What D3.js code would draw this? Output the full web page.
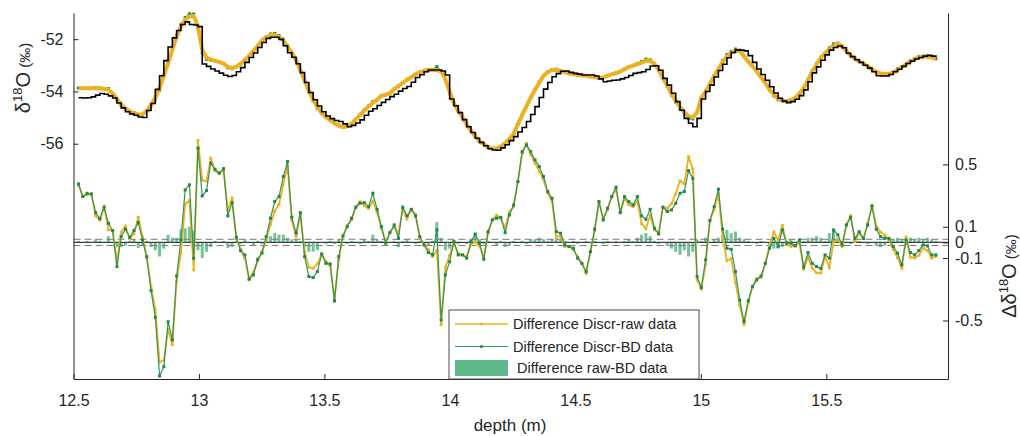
<!DOCTYPE html>
<html>
<head>
<meta charset="utf-8">
<script src="https://cdn.jsdelivr.net/npm/d3@7"></script>
<style>
  body { margin: 0; background: #fff; }
  text { font-family: "Liberation Sans", Arial, sans-serif; fill: #262626; }
</style>
</head>
<body>
<div id="chart"></div>
<script>
const width = 1020;
const height = 436;

// depth of every sample (m)
const depth = [
  12.520, 12.537, 12.554, 12.571, 12.588, 12.605, 12.622, 12.639, 12.656, 12.673,
  12.690, 12.707, 12.724, 12.741, 12.758, 12.775, 12.792, 12.809, 12.826, 12.843,
  12.860, 12.877, 12.894, 12.911, 12.928, 12.945, 12.962, 12.979, 12.996, 13.013,
  13.030, 13.047, 13.064, 13.081, 13.098, 13.115, 13.132, 13.149, 13.166, 13.183,
  13.200, 13.217, 13.234, 13.251, 13.268, 13.285, 13.302, 13.319, 13.336, 13.353,
  13.370, 13.387, 13.404, 13.421, 13.438, 13.455, 13.472, 13.489, 13.506, 13.523,
  13.540, 13.557, 13.574, 13.591, 13.608, 13.625, 13.642, 13.659, 13.676, 13.693,
  13.710, 13.727, 13.744, 13.761, 13.778, 13.795, 13.812, 13.829, 13.846, 13.863,
  13.880, 13.897, 13.914, 13.931, 13.948, 13.965, 13.982, 13.999, 14.016, 14.033,
  14.050, 14.067, 14.084, 14.101, 14.118, 14.135, 14.152, 14.169, 14.186, 14.203,
  14.220, 14.237, 14.254, 14.271, 14.288, 14.305, 14.322, 14.339, 14.356, 14.373,
  14.390, 14.407, 14.424, 14.441, 14.458, 14.475, 14.492, 14.509, 14.526, 14.543,
  14.560, 14.577, 14.594, 14.611, 14.628, 14.645, 14.662, 14.679, 14.696, 14.713,
  14.730, 14.747, 14.764, 14.781, 14.798, 14.815, 14.832, 14.849, 14.866, 14.883,
  14.900, 14.917, 14.934, 14.951, 14.968, 14.985, 15.002, 15.019, 15.036, 15.053,
  15.070, 15.087, 15.104, 15.121, 15.138, 15.155, 15.172, 15.189, 15.206, 15.223,
  15.240, 15.257, 15.274, 15.291, 15.308, 15.325, 15.342, 15.359, 15.376, 15.393,
  15.410, 15.427, 15.444, 15.461, 15.478, 15.495, 15.512, 15.529, 15.546, 15.563,
  15.580, 15.597, 15.614, 15.631, 15.648, 15.665, 15.682, 15.699, 15.716, 15.733,
  15.750, 15.767, 15.784, 15.801, 15.818, 15.835, 15.852, 15.869, 15.886, 15.903,
  15.920, 15.937
];

// top panel, raw data d18O (permil)
const rawData = [
  -53.88, -53.88, -53.88, -53.88, -53.88, -53.88, -53.90, -53.93, -54.08, -54.29,
  -54.50, -54.65, -54.77, -54.83, -54.88, -54.87, -54.75, -54.52, -54.24, -53.86,
  -53.38, -52.93, -52.40, -51.89, -51.53, -51.26, -51.13, -51.11, -51.52, -52.41,
  -52.71, -52.78, -52.83, -52.87, -52.94, -53.06, -53.10, -53.06, -52.94, -52.80,
  -52.64, -52.45, -52.26, -52.05, -51.93, -51.84, -51.84, -51.91, -52.05, -52.29,
  -52.53, -52.80, -53.19, -53.58, -53.97, -54.31, -54.60, -54.83, -54.98, -55.10,
  -55.22, -55.31, -55.37, -55.33, -55.24, -55.07, -54.90, -54.73, -54.57, -54.44,
  -54.32, -54.17, -54.12, -54.07, -53.91, -53.79, -53.68, -53.56, -53.46, -53.34,
  -53.27, -53.21, -53.18, -53.18, -53.18, -53.23, -53.53, -54.02, -54.46, -54.73,
  -55.00, -55.27, -55.51, -55.71, -55.91, -56.02, -56.13, -56.18, -56.18, -56.11,
  -55.99, -55.82, -55.62, -55.25, -54.90, -54.57, -54.24, -53.94, -53.67, -53.41,
  -53.26, -53.18, -53.18, -53.22, -53.26, -53.31, -53.33, -53.36, -53.38, -53.40,
  -53.43, -53.45, -53.49, -53.46, -53.40, -53.35, -53.30, -53.24, -53.15, -53.07,
  -53.01, -52.96, -52.90, -52.82, -52.83, -52.94, -53.18, -53.49, -53.77, -54.10,
  -54.35, -54.59, -54.79, -54.95, -54.99, -54.81, -54.25, -54.01, -53.72, -53.41,
  -53.15, -52.86, -52.67, -52.53, -52.45, -52.45, -52.66, -52.86, -53.04, -53.23,
  -53.46, -53.68, -53.93, -54.13, -54.28, -54.34, -54.39, -54.34, -54.25, -54.09,
  -53.87, -53.58, -53.23, -52.97, -52.72, -52.54, -52.39, -52.26, -52.18, -52.27,
  -52.45, -52.63, -52.74, -52.85, -52.94, -53.04, -53.16, -53.24, -53.31, -53.32,
  -53.33, -53.27, -53.17, -53.07, -52.96, -52.85, -52.77, -52.69, -52.67, -52.67,
  -52.70, -52.76
];

// top panel, BD data
const bdData = [
  -53.87, -53.88, -53.87, -53.88, -53.86, -53.87, -53.90, -53.89, -54.08, -54.32,
  -54.53, -54.67, -54.76, -54.81, -54.92, -54.89, -54.74, -54.55, -54.29, -53.95,
  -53.42, -52.88, -52.37, -51.86, -51.45, -51.17, -51.03, -51.04, -51.57, -52.51,
  -52.77, -52.81, -52.82, -52.87, -52.93, -53.10, -53.13, -53.05, -52.95, -52.78,
  -52.64, -52.47, -52.25, -52.06, -51.91, -51.80, -51.78, -51.86, -52.00, -52.26,
  -52.51, -52.78, -53.18, -53.61, -54.03, -54.37, -54.65, -54.83, -54.99, -55.09,
  -55.23, -55.29, -55.37, -55.34, -55.23, -55.07, -54.91, -54.71, -54.56, -54.39,
  -54.30, -54.16, -54.13, -54.07, -53.90, -53.82, -53.67, -53.54, -53.46, -53.35,
  -53.26, -53.21, -53.20, -53.17, -53.05, -53.20, -53.58, -54.06, -54.45, -54.74,
  -55.00, -55.28, -55.49, -55.66, -55.89, -56.03, -56.12, -56.18, -56.20, -56.10,
  -56.02, -55.84, -55.61, -55.25, -54.89, -54.58, -54.22, -53.92, -53.64, -53.39,
  -53.25, -53.16, -53.15, -53.20, -53.25, -53.31, -53.32, -53.37, -53.38, -53.39,
  -53.43, -53.44, -53.49, -53.47, -53.39, -53.35, -53.29, -53.24, -53.14, -53.05,
  -53.00, -52.93, -52.85, -52.76, -52.79, -52.93, -53.19, -53.49, -53.79, -54.14,
  -54.41, -54.67, -54.84, -55.04, -55.05, -54.79, -54.24, -53.98, -53.72, -53.39,
  -53.12, -52.81, -52.59, -52.47, -52.38, -52.42, -52.64, -52.85, -53.04, -53.24,
  -53.45, -53.68, -53.95, -54.17, -54.32, -54.37, -54.38, -54.32, -54.25, -54.07,
  -53.86, -53.55, -53.20, -52.93, -52.69, -52.53, -52.33, -52.18, -52.15, -52.26,
  -52.45, -52.64, -52.72, -52.84, -52.94, -53.05, -53.16, -53.26, -53.34, -53.34,
  -53.32, -53.25, -53.14, -53.05, -52.98, -52.82, -52.75, -52.66, -52.65, -52.64,
  -52.68, -52.75
];

// top panel, discretized data (stairs)
const discrData = [
  -54.24, -54.25, -54.24, -54.21, -54.14, -54.08, -54.11, -54.17, -54.25, -54.44,
  -54.63, -54.78, -54.86, -54.91, -54.98, -55.00, -54.73, -54.46, -53.92, -53.40,
  -52.82, -52.30, -51.95, -51.67, -51.44, -51.34, -51.44, -51.46, -51.52, -52.95,
  -53.04, -53.14, -53.22, -53.30, -53.38, -53.43, -53.39, -53.25, -53.09, -52.89,
  -52.70, -52.53, -52.32, -52.13, -51.97, -51.93, -51.93, -52.01, -52.25, -52.52,
  -52.69, -52.94, -53.28, -53.66, -54.04, -54.32, -54.56, -54.78, -54.94, -55.04,
  -55.11, -55.15, -55.24, -55.35, -55.30, -55.21, -55.09, -54.91, -54.76, -54.66,
  -54.54, -54.42, -54.31, -54.20, -54.11, -53.99, -53.89, -53.81, -53.65, -53.47,
  -53.36, -53.25, -53.18, -53.18, -53.18, -53.22, -53.37, -54.29, -54.55, -54.81,
  -55.08, -55.35, -55.57, -55.79, -55.95, -56.08, -56.19, -56.24, -56.25, -56.16,
  -56.04, -55.88, -55.73, -55.55, -55.38, -55.15, -54.88, -54.58, -54.23, -53.91,
  -53.66, -53.44, -53.32, -53.23, -53.22, -53.27, -53.31, -53.34, -53.37, -53.37,
  -53.37, -53.41, -53.52, -53.63, -53.60, -53.57, -53.56, -53.52, -53.47, -53.39,
  -53.31, -53.28, -53.25, -53.16, -53.03, -53.02, -53.19, -53.50, -53.76, -54.07,
  -54.39, -54.72, -55.03, -55.22, -55.35, -55.03, -54.29, -54.00, -53.76, -53.45,
  -53.20, -52.96, -52.71, -52.51, -52.41, -52.42, -52.45, -52.63, -52.89, -53.14,
  -53.35, -53.57, -53.82, -54.06, -54.26, -54.37, -54.43, -54.39, -54.30, -54.16,
  -53.94, -53.63, -53.29, -53.06, -52.81, -52.60, -52.42, -52.32, -52.26, -52.33,
  -52.54, -52.67, -52.79, -52.89, -53.00, -53.11, -53.25, -53.40, -53.41, -53.41,
  -53.35, -53.25, -53.15, -53.04, -52.93, -52.84, -52.76, -52.70, -52.65, -52.62,
  -52.65, -52.69
];

// bottom panel, difference Discr-raw (permil)
const diffDiscrRaw = [
  0.365, 0.294, 0.305, 0.311, 0.171, 0.143, 0.226, 0.083, 0.076, -0.125,
  0.067, 0.105, 0.023, 0.056, 0.162, 0.036, -0.101, -0.279, -0.430, -0.766,
  -0.756, -0.558, -0.655, -0.245, -0.069, 0.246, 0.269, -0.176, 0.654, 0.398,
  0.392, 0.538, 0.459, 0.444, 0.463, 0.205, 0.285, 0.023, -0.043, -0.100,
  -0.236, -0.188, -0.118, -0.059, 0.017, 0.115, 0.202, 0.244, 0.372, 0.488,
  0.141, 0.039, 0.181, -0.061, -0.159, -0.165, -0.137, -0.074, -0.124, -0.148,
  -0.365, -0.111, 0.042, 0.111, 0.145, 0.226, 0.261, 0.235, 0.219, 0.265,
  0.192, 0.091, 0.005, 0.063, 0.102, 0.056, 0.216, 0.150, 0.212, 0.180,
  0.027, -0.016, -0.045, -0.090, -0.050, -0.527, -0.158, -0.083, -0.005, -0.070,
  -0.080, -0.091, -0.015, 0.004, -0.025, -0.098, 0.059, 0.144, 0.175, 0.151,
  0.093, 0.196, 0.230, 0.390, 0.572, 0.635, 0.562, 0.509, 0.456, 0.402,
  0.316, 0.263, 0.039, 0.039, -0.026, -0.026, -0.047, -0.091, -0.134, -0.197,
  -0.059, 0.075, 0.262, 0.154, 0.209, 0.294, 0.343, 0.191, 0.284, 0.242,
  0.230, 0.264, 0.120, 0.088, 0.172, 0.081, 0.064, 0.226, 0.218, 0.248,
  0.311, 0.395, 0.376, 0.550, 0.471, -0.239, -0.298, -0.142, 0.140, 0.209,
  0.311, 0.035, -0.117, -0.104, -0.257, -0.399, -0.528, -0.383, -0.283, -0.230,
  -0.225, -0.134, -0.017, 0.066, 0.014, 0.110, -0.015, -0.025, -0.022, -0.004,
  -0.169, -0.095, -0.164, -0.195, -0.196, -0.090, -0.161, 0.000, 0.018, -0.026,
  0.112, 0.171, 0.006, 0.059, 0.026, 0.122, 0.234, 0.105, 0.067, 0.046,
  0.016, -0.046, -0.099, -0.164, 0.036, -0.095, -0.100, -0.082, -0.036, -0.052,
  -0.100, -0.090
];

// bottom panel, difference Discr-BD (permil)
const diffDiscrBD = [
  0.375, 0.294, 0.315, 0.311, 0.191, 0.153, 0.226, 0.123, 0.076, -0.155,
  0.037, 0.085, 0.033, 0.076, 0.127, 0.016, -0.091, -0.309, -0.480, -0.856,
  -0.796, -0.508, -0.625, -0.215, 0.016, 0.336, 0.369, -0.101, 0.604, 0.298,
  0.332, 0.508, 0.469, 0.444, 0.473, 0.170, 0.255, 0.033, -0.053, -0.080,
  -0.236, -0.208, -0.108, -0.069, 0.037, 0.155, 0.262, 0.294, 0.422, 0.518,
  0.161, 0.059, 0.191, -0.091, -0.219, -0.225, -0.187, -0.074, -0.134, -0.138,
  -0.375, -0.091, 0.042, 0.101, 0.155, 0.226, 0.251, 0.255, 0.229, 0.315,
  0.212, 0.101, -0.005, 0.063, 0.112, 0.026, 0.226, 0.170, 0.212, 0.170,
  0.037, -0.016, -0.065, -0.080, 0.080, -0.497, -0.208, -0.123, 0.005, -0.080,
  -0.080, -0.101, 0.005, 0.054, -0.005, -0.108, 0.069, 0.144, 0.155, 0.161,
  0.063, 0.176, 0.240, 0.390, 0.582, 0.625, 0.582, 0.529, 0.486, 0.422,
  0.326, 0.283, 0.069, 0.059, -0.016, -0.026, -0.037, -0.101, -0.134, -0.187,
  -0.059, 0.085, 0.262, 0.144, 0.219, 0.294, 0.353, 0.191, 0.294, 0.262,
  0.240, 0.294, 0.170, 0.148, 0.212, 0.091, 0.054, 0.226, 0.198, 0.208,
  0.251, 0.315, 0.326, 0.460, 0.411, -0.219, -0.288, -0.112, 0.140, 0.229,
  0.341, 0.085, -0.037, -0.044, -0.187, -0.369, -0.508, -0.373, -0.283, -0.240,
  -0.215, -0.134, -0.037, 0.026, -0.026, 0.080, -0.005, -0.005, -0.022, 0.016,
  -0.159, -0.065, -0.134, -0.155, -0.166, -0.080, -0.101, 0.080, 0.048, -0.016,
  0.112, 0.161, 0.026, 0.069, 0.026, 0.112, 0.234, 0.085, 0.037, 0.026,
  0.026, -0.026, -0.069, -0.144, 0.016, -0.065, -0.080, -0.052, -0.016, -0.022,
  -0.080, -0.080
];

// bottom panel, difference raw-BD (bars)
const diffRawBD = [
  0.01, 0.00, 0.01, 0.00, 0.02, 0.01, 0.00, 0.04, 0.00, -0.03,
  -0.03, -0.02, 0.01, 0.02, -0.035, -0.02, 0.01, -0.03, -0.05, -0.09,
  -0.04, 0.05, 0.03, 0.03, 0.085, 0.09, 0.10, 0.075, -0.05, -0.10,
  -0.06, -0.03, 0.01, 0.00, 0.01, -0.035, -0.03, 0.01, -0.01, 0.02,
  0.00, -0.02, 0.01, -0.01, 0.02, 0.04, 0.06, 0.05, 0.05, 0.03,
  0.02, 0.02, 0.01, -0.03, -0.06, -0.06, -0.05, 0.00, -0.01, 0.01,
  -0.01, 0.02, 0.00, -0.01, 0.01, 0.00, -0.01, 0.02, 0.01, 0.05,
  0.02, 0.01, -0.01, 0.00, 0.01, -0.03, 0.01, 0.02, 0.00, -0.01,
  0.01, 0.00, -0.02, 0.01, 0.13, 0.03, -0.05, -0.04, 0.01, -0.01,
  0.00, -0.01, 0.02, 0.05, 0.02, -0.01, 0.01, 0.00, -0.02, 0.01,
  -0.03, -0.02, 0.01, 0.00, 0.01, -0.01, 0.02, 0.02, 0.03, 0.02,
  0.01, 0.02, 0.03, 0.02, 0.01, 0.00, 0.01, -0.01, 0.00, 0.01,
  0.00, 0.01, 0.00, -0.01, 0.01, 0.00, 0.01, 0.00, 0.01, 0.02,
  0.01, 0.03, 0.05, 0.06, 0.04, 0.01, -0.01, 0.00, -0.02, -0.04,
  -0.06, -0.08, -0.05, -0.09, -0.06, 0.02, 0.01, 0.03, 0.00, 0.02,
  0.03, 0.05, 0.08, 0.06, 0.07, 0.03, 0.02, 0.01, 0.00, -0.01,
  0.01, 0.00, -0.02, -0.04, -0.04, -0.03, 0.01, 0.02, 0.00, 0.02,
  0.01, 0.03, 0.03, 0.04, 0.03, 0.01, 0.06, 0.08, 0.03, 0.01,
  0.00, -0.01, 0.02, 0.01, 0.00, -0.01, 0.00, -0.02, -0.03, -0.02,
  0.01, 0.02, 0.03, 0.02, -0.02, 0.03, 0.02, 0.03, 0.02, 0.03,
  0.02, 0.01
];

const xTicks = [12.5, 13, 13.5, 14, 14.5, 15, 15.5];
const leftTicks = [-52, -54, -56];
const rightTicks = [0.5, 0.1, 0, -0.1, -0.5];
const limitLines = [-0.02, 0.02];
const legendNames = ["Difference Discr-raw data", "Difference Discr-BD data", "Difference raw-BD data"];

const yellow = "#EDB120";
const green = "#2f9856";
const darkGreen = "#23874a";
const barColor = "#5cb889";

const svg = d3.select("#chart")
  .append("svg")
  .attr("width", width)
  .attr("height", height);

const x = d3.scaleLinear().domain([12.5, 15.985]).range([73.5, 948]);
const yLeft = d3.scaleLinear().domain([-65, -51]).range([379, 13]);
const yRight = d3.scaleLinear().domain([-0.875, 1.47]).range([379, 13]);

const rows = depth.map(function (d, i) {
  return { depth: d, raw: rawData[i], bd: bdData[i], discr: discrData[i], dr: diffDiscrRaw[i], db: diffDiscrBD[i], rb: diffRawBD[i] };
});

// bars raw-BD
svg.append("g")
  .selectAll("rect")
  .data(rows)
  .join("rect")
  .attr("x", d => x(d.depth) - 1.5)
  .attr("width", 3)
  .attr("y", d => Math.min(yRight(0), yRight(d.rb)))
  .attr("height", d => Math.abs(yRight(d.rb) - yRight(0)))
  .attr("fill", barColor)
  .attr("opacity", 0.85);

// dashed limits and zero line
svg.append("g")
  .selectAll("line")
  .data(limitLines)
  .join("line")
  .attr("x1", x.range()[0]).attr("x2", x.range()[1])
  .attr("y1", d => yRight(d)).attr("y2", d => yRight(d))
  .attr("stroke", "#7a7a7a")
  .attr("stroke-width", 1)
  .attr("stroke-dasharray", "7,4");

svg.append("line")
  .attr("x1", x.range()[0]).attr("x2", x.range()[1])
  .attr("y1", yRight(0)).attr("y2", yRight(0))
  .attr("stroke", "#404040")
  .attr("stroke-width", 1.2);

// difference lines
const lineDR = d3.line().x(d => x(d.depth)).y(d => yRight(d.dr));
const lineDB = d3.line().x(d => x(d.depth)).y(d => yRight(d.db));

svg.append("path")
  .datum(rows)
  .attr("d", lineDR)
  .attr("fill", "none")
  .attr("stroke", yellow)
  .attr("stroke-width", 1.8);

svg.append("g")
  .selectAll("circle")
  .data(rows)
  .join("circle")
  .attr("cx", d => x(d.depth))
  .attr("cy", d => yRight(d.dr))
  .attr("r", 1.6)
  .attr("fill", yellow);

svg.append("path")
  .datum(rows)
  .attr("d", lineDB)
  .attr("fill", "none")
  .attr("stroke", green)
  .attr("stroke-width", 1.2);

svg.append("g")
  .selectAll("rect")
  .data(rows)
  .join("rect")
  .attr("x", d => x(d.depth) - 1.5)
  .attr("y", d => yRight(d.db) - 1.5)
  .attr("width", 3)
  .attr("height", 3)
  .attr("fill", darkGreen);

// top panel
const lineBD = d3.line().x(d => x(d.depth)).y(d => yLeft(d.bd));
const lineRaw = d3.line().x(d => x(d.depth)).y(d => yLeft(d.raw));
const lineDiscr = d3.line().curve(d3.curveStepAfter).x(d => x(d.depth)).y(d => yLeft(d.discr));

svg.append("path")
  .datum(rows)
  .attr("d", lineBD)
  .attr("fill", "none")
  .attr("stroke", green)
  .attr("stroke-width", 1.2);

svg.append("g")
  .selectAll("rect")
  .data(rows)
  .join("rect")
  .attr("x", d => x(d.depth) - 1.5)
  .attr("y", d => yLeft(d.bd) - 1.5)
  .attr("width", 3)
  .attr("height", 3)
  .attr("fill", darkGreen);

svg.append("path")
  .datum(rows)
  .attr("d", lineRaw)
  .attr("fill", "none")
  .attr("stroke", yellow)
  .attr("stroke-width", 4)
  .attr("stroke-linejoin", "round");

svg.append("path")
  .datum(rows)
  .attr("d", lineDiscr)
  .attr("fill", "none")
  .attr("stroke", "#000")
  .attr("stroke-width", 1.6);

// axes
const fmt = d => String(d);

const axisB = svg.append("g")
  .attr("transform", "translate(0,379)")
  .call(d3.axisBottom(x).tickValues(xTicks).tickSizeInner(-5).tickSizeOuter(0).tickPadding(16).tickFormat(fmt));

const axisL = svg.append("g")
  .attr("transform", "translate(73.5,0)")
  .call(d3.axisLeft(yLeft).tickValues(leftTicks).tickSizeInner(-5).tickSizeOuter(0).tickPadding(10).tickFormat(fmt));

const axisR = svg.append("g")
  .attr("transform", "translate(948,0)")
  .call(d3.axisRight(yRight).tickValues(rightTicks).tickSizeInner(-5).tickSizeOuter(0).tickPadding(7).tickFormat(fmt));

[axisB, axisL, axisR].forEach(function (a) {
  a.select(".domain").attr("stroke", "#262626");
  a.selectAll(".tick line").attr("stroke", "#262626");
  a.selectAll(".tick text").attr("font-size", "16px").attr("font-family", "Liberation Sans, Arial, sans-serif").attr("fill", "#262626");
});

// axis titles
svg.append("text")
  .attr("x", 510)
  .attr("y", 431)
  .attr("text-anchor", "middle")
  .attr("font-size", "17px")
  .text("depth (m)");

const tl = svg.append("text")
  .attr("transform", "translate(30,78) rotate(-90)")
  .attr("text-anchor", "middle")
  .attr("font-size", "20px");
tl.append("tspan").text("δ");
tl.append("tspan").attr("font-size", "13px").attr("dy", -8).text("18");
tl.append("tspan").attr("dy", 8).text("O");
tl.append("tspan").attr("font-size", "15px").text(" (‰)");

const tr = svg.append("text")
  .attr("transform", "translate(1016,276) rotate(-90)")
  .attr("text-anchor", "middle")
  .attr("font-size", "20px");
tr.append("tspan").text("Δδ");
tr.append("tspan").attr("font-size", "13px").attr("dy", -8).text("18");
tr.append("tspan").attr("dy", 8).text("O");
tr.append("tspan").attr("font-size", "15px").text(" (‰)");

// legend
const legend = svg.append("g").attr("transform", "translate(449,310)");
legend.append("rect")
  .attr("width", 250).attr("height", 69)
  .attr("fill", "#fff")
  .attr("stroke", "#4d4d4d")
  .attr("stroke-width", 1);

const legendRows = [
  { name: legendNames[0], color: yellow, dot: yellow, type: "line", y: 14 },
  { name: legendNames[1], color: green, dot: darkGreen, type: "line", y: 36.5 },
  { name: legendNames[2], color: barColor, type: "patch", y: 58 }
];

legendRows.forEach(function (r) {
  if (r.type === "line") {
    legend.append("line")
      .attr("x1", 6).attr("x2", 59).attr("y1", r.y).attr("y2", r.y)
      .attr("stroke", r.color).attr("stroke-width", r.color === yellow ? 1.6 : 1.2);
    legend.append("circle")
      .attr("cx", 32.5).attr("cy", r.y).attr("r", 1.6).attr("fill", r.dot);
    legend.append("text")
      .attr("x", 64).attr("y", r.y).attr("dy", "0.35em")
      .attr("font-size", "14.5px").text(r.name);
  } else {
    legend.append("rect")
      .attr("x", 6).attr("y", r.y - 8).attr("width", 53).attr("height", 16)
      .attr("fill", r.color);
    legend.append("text")
      .attr("x", 68).attr("y", r.y).attr("dy", "0.35em")
      .attr("font-size", "14.5px").text(r.name);
  }
});
</script>
</body>
</html>
